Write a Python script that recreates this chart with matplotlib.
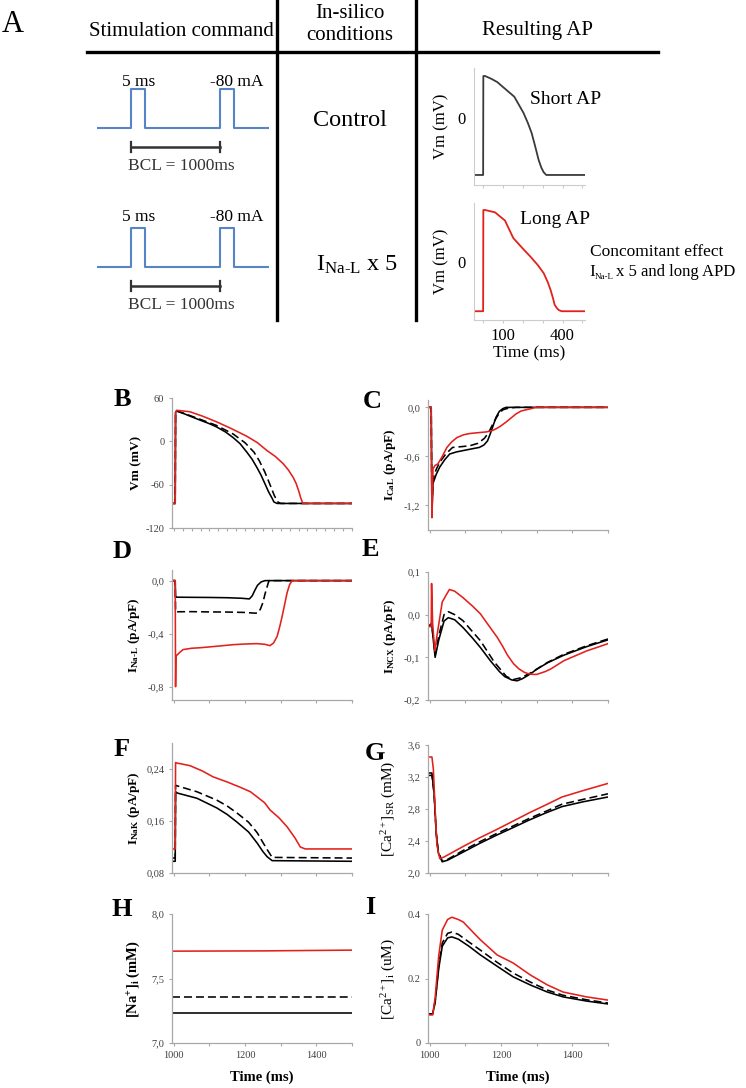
import numpy as np
import matplotlib
matplotlib.use('Agg')
import matplotlib.pyplot as plt

W, H = 746, 1088

plt.rcParams['font.family'] = ['Liberation Serif', 'DejaVu Serif']
plt.rcParams['mathtext.fontset'] = 'custom'
plt.rcParams['mathtext.rm'] = 'Liberation Serif'
plt.rcParams['mathtext.it'] = 'Liberation Serif:italic'
plt.rcParams['mathtext.bf'] = 'Liberation Serif:bold'

RED = '#e3201b'
BLUE = '#5585c5'
AXC = '#a8a8a8'
TXC = '#404040'

# ---- panel A: stimulation command (schematic units) and resulting APs
stim_t = [0, 34, 34, 48, 48, 123, 123, 137, 137, 172]
stim_i = [0, 0, 1, 1, 0, 0, 1, 1, 0, 0]
bcl_span = [34, 123]

ap_short_t = [-46, 0, 1, 10, 40, 71, 110, 157, 203, 225, 244, 262, 279, 293, 305, 318, 513]
ap_short_v = [-85, -85, 63, 63, 59, 54, 44, 32, 8, -7, -22, -42, -62, -74, -81, -85, -85]
ap_long_t = [-46, 0, 1, 10, 60, 110, 152, 200, 239, 275, 305, 325, 340, 352, 360, 372, 381, 395, 513]
ap_long_v = [-85, -85, 88, 88, 84, 70, 40, 22, 8, -6, -20, -35, -49, -63, -74, -80, -83, -85, -85]

# ---- panels B-I: control (solid), intermediate (dashed), INa-L x5 (red)
B_t_ctrl = [995, 1004, 1005, 1008, 1027, 1050, 1074, 1097, 1120, 1145, 1167, 1186, 1205, 1220, 1233, 1245, 1256, 1266, 1275, 1281, 1290, 1500]
B_v_ctrl = [-86, -86, 40, 42, 38.6, 34, 29.3, 25, 20, 13, 5, -3.3, -15, -25, -36, -47, -59, -70, -78, -84, -86, -86]
B_t_mid = [995, 1004, 1005, 1008, 1027, 1074, 1120, 1167, 1200, 1225, 1240, 1255, 1270, 1282, 1292, 1300, 1500]
B_v_mid = [-86, -86, 40, 42, 39, 30.5, 22, 10, -2, -15, -27, -42, -60, -75, -84, -86, -86]
B_t_x5 = [995, 1004, 1005, 1008, 1045, 1080, 1120, 1160, 1205, 1235, 1261, 1285, 1307, 1322, 1335, 1343, 1350, 1356, 1362, 1500]
B_v_x5 = [-86, -86, 40, 43, 41, 35, 27, 18, 7, -2, -12.6, -21, -31, -40, -50, -58, -68, -78, -86, -86]

C_t_ctrl = [995, 1004, 1006, 1009, 1018, 1028, 1042, 1056, 1075, 1092, 1115, 1139, 1152, 1162, 1170, 1178, 1186, 1195, 1205, 1214, 1500]
C_i_ctrl = [0, 0, -1.32, -0.93, -0.82, -0.73, -0.64, -0.57, -0.545, -0.53, -0.51, -0.49, -0.46, -0.41, -0.32, -0.22, -0.12, -0.05, -0.015, 0, 0]
C_t_mid = [995, 1004, 1006, 1009, 1018, 1028, 1045, 1064, 1090, 1112, 1135, 1153, 1165, 1175, 1185, 1195, 1205, 1220, 1242, 1500]
C_i_mid = [0, 0, -1.25, -0.88, -0.76, -0.67, -0.57, -0.49, -0.48, -0.47, -0.44, -0.38, -0.31, -0.22, -0.14, -0.07, -0.03, -0.01, 0, 0]
C_t_x5 = [995, 1004, 1006, 1009, 1015, 1023, 1035, 1048, 1062, 1076, 1095, 1112, 1135, 1159, 1175, 1187, 1200, 1214, 1228, 1242, 1256, 1270, 1285, 1298, 1500]
C_i_x5 = [0, 0, -1.35, -0.75, -0.71, -0.69, -0.6, -0.49, -0.42, -0.37, -0.335, -0.32, -0.31, -0.30, -0.285, -0.26, -0.225, -0.18, -0.13, -0.08, -0.045, -0.03, -0.015, 0, 0]

D_t_ctrl = [995, 1004, 1005, 1008, 1050, 1100, 1150, 1190, 1212, 1220, 1228, 1235, 1245, 1256, 1500]
D_i_ctrl = [0, 0, -0.126, -0.125, -0.126, -0.127, -0.129, -0.133, -0.138, -0.115, -0.07, -0.035, -0.01, 0, 0]
D_t_mid = [995, 1004, 1005, 1008, 1050, 1100, 1150, 1200, 1225, 1235, 1243, 1250, 1256, 1262, 1267, 1500]
D_i_mid = [0, 0, -0.235, -0.235, -0.234, -0.236, -0.237, -0.24, -0.245, -0.245, -0.215, -0.166, -0.1, -0.045, 0, 0]
D_t_x5 = [995, 1004, 1005, 1006, 1015, 1026, 1050, 1074, 1120, 1166, 1200, 1233, 1255, 1270, 1280, 1290, 1297, 1304, 1311, 1318, 1325, 1332, 1500]
D_i_x5 = [0, 0, -0.8, -0.57, -0.545, -0.52, -0.51, -0.506, -0.495, -0.483, -0.478, -0.475, -0.48, -0.49, -0.47, -0.42, -0.35, -0.27, -0.18, -0.09, -0.03, 0, 0]

E_t_ctrl = [995, 1004, 1005, 1010, 1015, 1025, 1040, 1052, 1070, 1093, 1120, 1142, 1170, 1195, 1210, 1230, 1245, 1260, 1282, 1300, 1330, 1376, 1440, 1500]
E_i_ctrl = [-0.025, -0.025, -0.02, -0.06, -0.1, -0.06, -0.015, -0.007, -0.012, -0.03, -0.055, -0.077, -0.108, -0.133, -0.145, -0.153, -0.155, -0.15, -0.139, -0.128, -0.113, -0.095, -0.075, -0.059]
E_t_mid = [995, 1004, 1005, 1010, 1015, 1025, 1040, 1052, 1070, 1093, 1120, 1142, 1180, 1215, 1235, 1255, 1282, 1330, 1376, 1440, 1500]
E_i_mid = [-0.025, -0.025, -0.02, -0.055, -0.095, -0.05, 0.0, 0.007, 0.0, -0.014, -0.04, -0.061, -0.11, -0.145, -0.152, -0.148, -0.137, -0.112, -0.093, -0.073, -0.057]
E_t_x5 = [995, 1004, 1005, 1008, 1014, 1020, 1035, 1055, 1070, 1093, 1120, 1142, 1165, 1190, 1205, 1218, 1235, 1250, 1265, 1275, 1290, 1300, 1311, 1325, 1340, 1376, 1440, 1500]
E_i_x5 = [-0.028, -0.028, 0.073, -0.02, -0.085, -0.05, 0.03, 0.059, 0.055, 0.04, 0.02, 0.002, -0.025, -0.054, -0.075, -0.095, -0.115, -0.127, -0.135, -0.138, -0.14, -0.14, -0.137, -0.133, -0.127, -0.108, -0.085, -0.068]

F_t_ctrl = [995, 1004, 1005, 1010, 1065, 1121, 1150, 1178, 1210, 1234, 1250, 1262, 1276, 1500]
F_i_ctrl = [0.098, 0.098, 0.205, 0.203, 0.195, 0.18, 0.17, 0.158, 0.143, 0.126, 0.113, 0.105, 0.099, 0.098]
F_t_mid = [995, 1004, 1005, 1010, 1065, 1121, 1150, 1178, 1210, 1234, 1250, 1262, 1276, 1500]
F_i_mid = [0.103, 0.103, 0.215, 0.214, 0.205, 0.192, 0.183, 0.172, 0.158, 0.142, 0.127, 0.116, 0.104, 0.103]
F_t_x5 = [995, 1004, 1005, 1009, 1020, 1046, 1080, 1110, 1150, 1186, 1215, 1234, 1255, 1270, 1295, 1318, 1340, 1355, 1369, 1500]
F_i_x5 = [0.117, 0.117, 0.25, 0.249, 0.248, 0.245, 0.237, 0.228, 0.22, 0.212, 0.205, 0.197, 0.188, 0.177, 0.165, 0.151, 0.134, 0.12, 0.117, 0.117]

G_t_ctrl = [995, 1006, 1012, 1018, 1024, 1035, 1050, 1093, 1140, 1186, 1230, 1278, 1325, 1371, 1430, 1500]
G_c_ctrl = [3.25, 3.25, 3.0, 2.5, 2.25, 2.14, 2.16, 2.26, 2.37, 2.47, 2.56, 2.66, 2.75, 2.83, 2.89, 2.95]
G_t_mid = [995, 1006, 1012, 1018, 1024, 1035, 1050, 1093, 1140, 1186, 1230, 1278, 1325, 1371, 1430, 1500]
G_c_mid = [3.22, 3.22, 3.0, 2.5, 2.26, 2.15, 2.17, 2.28, 2.39, 2.49, 2.58, 2.68, 2.77, 2.86, 2.92, 2.99]
G_t_x5 = [995, 1006, 1010, 1015, 1020, 1028, 1040, 1093, 1140, 1186, 1230, 1278, 1325, 1371, 1430, 1500]
G_c_x5 = [3.45, 3.45, 3.3, 2.8, 2.35, 2.18, 2.2, 2.33, 2.44, 2.54, 2.64, 2.75, 2.85, 2.95, 3.03, 3.12]

H_t = [995, 1250, 1500]
H_c_ctrl = [7.233, 7.233, 7.233]
H_c_mid = [7.357, 7.357, 7.357]
H_c_x5 = [7.712, 7.714, 7.72]

I_t_ctrl = [995, 1008, 1015, 1025, 1035, 1050, 1062, 1080, 1110, 1142, 1189, 1234, 1282, 1330, 1374, 1440, 1500]
I_c_ctrl = [0.09, 0.09, 0.125, 0.23, 0.30, 0.326, 0.329, 0.322, 0.3, 0.273, 0.238, 0.205, 0.18, 0.158, 0.143, 0.13, 0.121]
I_t_mid = [995, 1008, 1015, 1025, 1035, 1050, 1062, 1080, 1110, 1142, 1189, 1234, 1282, 1330, 1374, 1440, 1500]
I_c_mid = [0.09, 0.09, 0.13, 0.24, 0.31, 0.34, 0.344, 0.337, 0.313, 0.288, 0.25, 0.217, 0.189, 0.164, 0.148, 0.134, 0.124]
I_t_x5 = [995, 1008, 1015, 1025, 1035, 1050, 1062, 1080, 1094, 1120, 1142, 1189, 1234, 1282, 1330, 1374, 1440, 1500]
I_c_x5 = [0.087, 0.087, 0.14, 0.27, 0.35, 0.383, 0.39, 0.383, 0.375, 0.345, 0.32, 0.273, 0.248, 0.211, 0.18, 0.158, 0.143, 0.133]

STYLE = {
    'ctrl': dict(color='black', lw=1.15),
    'mid': dict(color='black', lw=1.15, dashes=(5, 2.5)),
    'x5': dict(color=RED, lw=1.15),
}

fig = plt.figure(figsize=(W / 100, H / 100), dpi=100)


def add_box(x0, y0, x1, y1):
    return fig.add_axes([x0 / W, 1 - y1 / H, (x1 - x0) / W, (y1 - y0) / H])


# stimulation command rows
for top, base in [(80, 128), (219, 267)]:
    ax = add_box(97, top, 269, top + 80)
    ax.plot(stim_t, stim_i, color=BLUE, lw=1.5)
    ax.set_xlim(0, 172)
    ax.set_ylim(-(top + 80 - base) / 39, (base - top) / 39)
    ax.plot(bcl_span, [-0.49, -0.49], color='#333333', lw=1.8)
    for b in bcl_span:
        ax.plot([b, b], [-0.62, -0.36], color='#333333', lw=1.6)
    ax.axis('off')

# resulting AP insets
for (y0, y1), t, v, col, ylim, name in [
        ((68, 185), ap_short_t, ap_short_v, '#3a3a3a', (-100, 75), 'Short AP'),
        ((203, 320), ap_long_t, ap_long_v, RED, (-100, 100), 'Long AP')]:
    ax = add_box(474, y0, 585, y1)
    ax.patch.set_alpha(0)
    ax.plot(t, v, color=col, lw=1.3)
    ax.set_xlim(-46, 513)
    ax.set_ylim(*ylim)
    for s in ['top', 'right']:
        ax.spines[s].set_visible(False)
    for s in ['left', 'bottom']:
        ax.spines[s].set_color('#cccccc')
    ax.set_yticks([0])
    ax.set_yticklabels(['0'], fontsize=12)
    ax.tick_params(axis='y', length=0, pad=6)
    ax.set_xticks([0, 100, 200, 300, 400, 500])
    ax.tick_params(axis='x', length=2, color='#cccccc')
    if name == 'Long AP':
        ax.set_xticklabels(['', '100', '', '', '400', ''], fontsize=12)
        ax.set_xlabel('Time (ms)', fontsize=12.5, labelpad=1)
    else:
        ax.set_xticklabels([])
    ax.set_ylabel('Vm (mV)', fontsize=12, labelpad=6)

# ---- lower panels
LEFT = (172, 352)
RIGHT = (428, 608)
panels = [
    ('B', LEFT, (398, 528), [(B_t_ctrl, B_v_ctrl, 'ctrl'), (B_t_mid, B_v_mid, 'mid'), (B_t_x5, B_v_x5, 'x5')],
     (-120, 60), [60, 0, -60, -120], ['60', '0', '-60', '-120'], 'Vm (mV)', dict(fontweight='bold', fontsize=9.5), (122, 400)),
    ('C', RIGHT, (400, 530), [(C_t_ctrl, C_i_ctrl, 'ctrl'), (C_t_mid, C_i_mid, 'mid'), (C_t_x5, C_i_x5, 'x5')],
     (-1.5, 0.09), [0, -0.6, -1.2], ['0,0', '-0,6', '-1,2'], r'$\mathbf{I}_{\mathbf{CaL}}$ (pA/pF)', dict(fontweight='bold', fontsize=9.5), (372, 402)),
    ('D', LEFT, (570, 700), [(D_t_ctrl, D_i_ctrl, 'ctrl'), (D_t_mid, D_i_mid, 'mid'), (D_t_x5, D_i_x5, 'x5')],
     (-0.9, 0.08), [0, -0.4, -0.8], ['0,0', '-0,4', '-0,8'], r'$\mathbf{I}_{\mathbf{Na\text{-}L}}$ (pA/pF)', dict(fontweight='bold', fontsize=9.5), (122, 552)),
    ('E', RIGHT, (572, 700), [(E_t_ctrl, E_i_ctrl, 'ctrl'), (E_t_mid, E_i_mid, 'mid'), (E_t_x5, E_i_x5, 'x5')],
     (-0.2, 0.1), [0.1, 0, -0.1, -0.2], ['0,1', '0,0', '-0,1', '-0,2'], r'$\mathbf{I}_{\mathbf{NCX}}$ (pA/pF)', dict(fontweight='bold', fontsize=9.5), (370, 550)),
    ('F', LEFT, (743, 873), [(F_t_ctrl, F_i_ctrl, 'ctrl'), (F_t_mid, F_i_mid, 'mid'), (F_t_x5, F_i_x5, 'x5')],
     (0.08, 0.28), [0.24, 0.16, 0.08], ['0,24', '0,16', '0,08'], r'$\mathbf{I}_{\mathbf{NaK}}$ (pA/pF)', dict(fontweight='bold', fontsize=9.5), (122, 750)),
    ('G', RIGHT, (745, 873), [(G_t_ctrl, G_c_ctrl, 'ctrl'), (G_t_mid, G_c_mid, 'mid'), (G_t_x5, G_c_x5, 'x5')],
     (2.0, 3.6), [3.6, 3.2, 2.8, 2.4, 2.0], ['3,6', '3,2', '2,8', '2,4', '2,0'], r'[Ca$^{2+}$]$_{\rm SR}$ (mM)', dict(fontsize=11), (375, 753)),
    ('H', LEFT, (914, 1043), [(H_t, H_c_ctrl, 'ctrl'), (H_t, H_c_mid, 'mid'), (H_t, H_c_x5, 'x5')],
     (7.0, 8.0), [8.0, 7.5, 7.0], ['8,0', '7,5', '7,0'], r'[Na$^{\mathbf{+}}$]$_{\mathbf{i}}$ (mM)', dict(fontweight='bold', fontsize=10.5), (122, 910)),
    ('I', RIGHT, (914, 1043), [(I_t_ctrl, I_c_ctrl, 'ctrl'), (I_t_mid, I_c_mid, 'mid'), (I_t_x5, I_c_x5, 'x5')],
     (0, 0.4), [0.4, 0.2, 0], ['0.4', '0.2', '0'], r'[Ca$^{2+}$]$_{\rm i}$ (uM)', dict(fontsize=11), (370, 907)),
]

letters = []
for letter, (x0, x1), (y0, y1), series, ylim, yt, ytl, ylab, lkw, lpos in panels:
    ax = add_box(x0, y0, x1, y1)
    ax.patch.set_alpha(0)
    for t, v, kind in series:
        ax.plot(t, v, **STYLE[kind])
    ax.set_xlim(995, 1500)
    ax.set_ylim(*ylim)
    for s in ['top', 'right']:
        ax.spines[s].set_visible(False)
    for s in ['left', 'bottom']:
        ax.spines[s].set_color(AXC)
        ax.spines[s].set_linewidth(0.9)
    ax.set_yticks(yt)
    ax.set_yticklabels(ytl, fontsize=7.5, color=TXC)
    if letter == 'B':
        ax.set_xticks(np.arange(1000, 1501, 25))
    else:
        ax.set_xticks(np.arange(1000, 1501, 100))
    if letter in ('H', 'I'):
        ax.set_xticklabels(['1000', '', '1200', '', '1400', ''], fontsize=7.5, color=TXC)
        ax.set_xlabel('Time (ms)', fontsize=10.5, fontweight='bold', labelpad=8)
    else:
        ax.set_xticklabels([])
    ax.tick_params(direction='out', length=2.5, width=0.8, color=AXC, pad=3)
    ax.set_ylabel(ylab, **lkw)
    ax.yaxis.set_label_coords(-0.165, 0.5)
    letters.append((letter, lpos))

# overlay for table frame and free text, drawn last so it sits on top
ov = fig.add_axes([0, 0, 1, 1])
ov.set_xlim(0, W)
ov.set_ylim(H, 0)
ov.axis('off')

ov.plot([87, 658], [52, 52], color='black', lw=2.4)
ov.plot([277, 277], [0, 320], color='black', lw=2.4)
ov.plot([416, 416], [0, 320], color='black', lw=2.4)
ov.text(13, 24, 'A', fontsize=22, ha='center', va='center')
ov.text(181, 32, 'Stimulation command', fontsize=15, ha='center', va='center')
ov.text(350, 14, 'In-silico', fontsize=15, ha='center', va='center')
ov.text(350, 36, 'conditions', fontsize=15, ha='center', va='center')
ov.text(538, 31, 'Resulting AP', fontsize=15, ha='center', va='center')
ov.text(350, 120, 'Control', fontsize=17.5, ha='center', va='center')
ov.text(357, 265, r'I$_{\rm Na\text{-}L}$ x 5', fontsize=17.5, ha='center', va='center')

for lab_y, base in [(82, 128), (217, 267)]:
    ov.text(139, lab_y, '5 ms', fontsize=12.5, ha='center', va='center')
    ov.text(237, lab_y, '-80 mA', fontsize=12.5, ha='center', va='center')
    ov.text(181, base + 38, 'BCL = 1000ms', fontsize=12.5, ha='center', va='center', color='#333333')

ov.text(566, 99, 'Short AP', fontsize=14, ha='center', va='center')
ov.text(555, 220, 'Long AP', fontsize=14, ha='center', va='center')

ov.text(590, 252, 'Concomitant effect', fontsize=12.5, ha='left', va='center')
ov.text(589, 272, 'I', fontsize=12.5, ha='left', va='center')
ov.text(595, 277, 'Na-L', fontsize=6.5, ha='left', va='center')
ov.text(616, 272, 'x 5 and long APD', fontsize=12, ha='left', va='center')

for letter, (lx, ly) in letters:
    ov.text(lx, ly, letter, fontsize=19, fontweight='bold', ha='center', va='center')

fig.savefig('out.png', dpi=100)
